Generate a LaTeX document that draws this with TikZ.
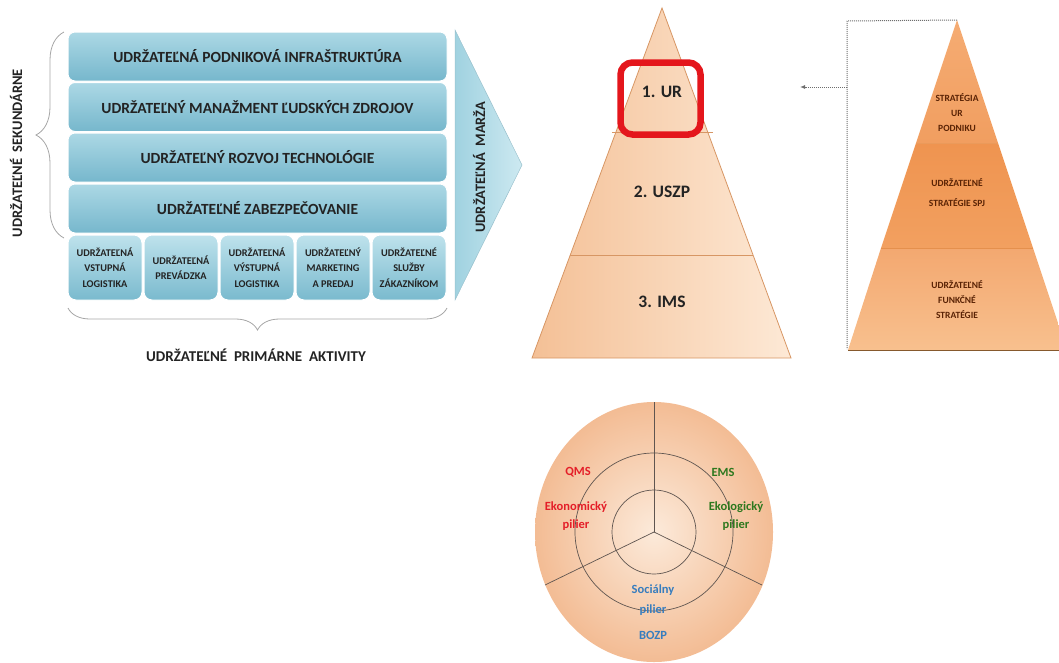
\documentclass[tikz,border=0pt]{standalone}
\usepackage{fontspec}
\setmainfont{Carlito}
\usetikzlibrary{arrows.meta,decorations.pathreplacing}
\definecolor{txt}{RGB}{35,35,35}
\definecolor{barTop}{RGB}{172,216,229}
\definecolor{barBot}{RGB}{118,183,204}
\definecolor{primTop}{RGB}{190,226,236}
\definecolor{primBot}{RGB}{122,186,206}
\definecolor{arrL}{RGB}{160,210,224}
\definecolor{arrR}{RGB}{205,233,241}
\definecolor{pyrL}{RGB}{244,192,150}
\definecolor{pyrR}{RGB}{253,233,214}
\definecolor{pyrEdge}{RGB}{215,150,100}
\definecolor{urRed}{RGB}{228,22,28}
\definecolor{rTop}{RGB}{245,172,115}
\definecolor{rTopB}{RGB}{241,158,96}
\definecolor{rMid}{RGB}{239,148,80}
\definecolor{rMidB}{RGB}{242,160,96}
\definecolor{rBot}{RGB}{243,168,112}
\definecolor{rBotB}{RGB}{248,192,142}
\definecolor{rTxt}{RGB}{90,35,5}
\definecolor{cIn}{RGB}{252,234,218}
\definecolor{cOut}{RGB}{243,188,148}
\definecolor{ring}{RGB}{95,85,80}
\definecolor{qRed}{RGB}{228,30,40}
\definecolor{eGreen}{RGB}{45,120,30}
\definecolor{sBlue}{RGB}{55,125,190}
\definecolor{dotc}{RGB}{110,110,110}
\begin{document}
\begin{tikzpicture}[x=1pt,y=-1pt,
  bar/.style={rounded corners=7pt, top color=barTop, bottom color=barBot, draw=white, line width=1pt,
    minimum width=379pt, minimum height=49pt, inner sep=0pt, font=\fontsize{15.5}{18}\selectfont\bfseries, text=txt},
  prim/.style={rounded corners=8pt, top color=primTop, bottom color=primBot, draw=white, line width=1pt,
    minimum width=74pt, minimum height=65pt, inner sep=0pt, align=center, font=\fontsize{10.3}{15.5}\selectfont\bfseries, text=txt},
  lbl/.style={font=\fontsize{15}{17}\selectfont\bfseries, text=txt, inner sep=0pt},
  pyrlbl/.style={font=\fontsize{17.5}{20}\selectfont\bfseries, text=txt, inner sep=0pt},
  rlbl/.style={font=\fontsize{9.5}{15}\selectfont\bfseries, text=rTxt, align=center, inner sep=0pt},
  clbl/.style={font=\fontsize{12.5}{18}\selectfont\bfseries, align=center, inner sep=0pt},
  bracestyle/.style={draw=gray!70, line width=0.8pt, decorate},
  dotline/.style={draw=dotc, densely dotted, line width=1pt}
]
\useasboundingbox (0,0) rectangle (1059,662);

% ---------- value chain ----------
\node[bar] (b1) at (257.5,56.5) {UDRŽATEĽNÁ PODNIKOVÁ INFRAŠTRUKTÚRA};
\node[bar] (b2) at (257.5,107) {UDRŽATEĽNÝ MANAŽMENT ĽUDSKÝCH ZDROJOV};
\node[bar] (b3) at (257.5,157.5) {UDRŽATEĽNÝ ROZVOJ TECHNOLÓGIE};
\node[bar] (b4) at (257.5,208.5) {UDRŽATEĽNÉ ZABEZPEČOVANIE};

\node[prim] (p1) at (105,267.5) {UDRŽATEĽNÁ\\VSTUPNÁ\\LOGISTIKA};
\node[prim] (p2) at (181,267.5) {UDRŽATEĽNÁ\\PREVÁDZKA};
\node[prim] (p3) at (257,267.5) {UDRŽATEĽNÁ\\VÝSTUPNÁ\\LOGISTIKA};
\node[prim] (p4) at (333,267.5) {UDRŽATEĽNÝ\\MARKETING\\A PREDAJ};
\node[prim] (p5) at (409,267.5) {UDRŽATEĽNÉ\\SLUŽBY\\ZÁKAZNÍKOM};

\shade[left color=arrL, right color=arrR, draw=arrL!80!gray, line width=0.5pt] (455,30) -- (522,165) -- (455,300) -- cycle;
\node[lbl, rotate=90, font=\fontsize{14.4}{16}\selectfont\bfseries] (marza) at (479,167) {UDRŽATEĽNÁ\ \ MARŽA};

\draw[bracestyle, decoration={brace, amplitude=28pt}] (64,238) -- (64,32);
\node[lbl, rotate=90, font=\fontsize{14.5}{16}\selectfont\bfseries] (sek) at (16,153) {UDRŽATEĽNÉ\ \ SEKUNDÁRNE};

\draw[bracestyle, decoration={brace, amplitude=22pt}] (447,308) -- (68,308);
\node[lbl] (prim) at (256,355) {UDRŽATEĽNÉ\ \ PRIMÁRNE\ \ AKTIVITY};

% ---------- middle pyramid ----------
\shade[left color=pyrL, right color=pyrR, draw=pyrEdge, line width=0.8pt] (662,8) -- (791,358) -- (532,358) -- cycle;
\draw[pyrEdge, line width=0.8pt] (612,132) -- (713,132);
\draw[pyrEdge, line width=0.8pt] (570,255) -- (753,255);
\node[draw=urRed, line width=6.5pt, rounded corners=12pt, minimum width=80pt, minimum height=72pt] (urbox) at (660.5,98.5) {};
\node[pyrlbl] (ur) at (662,92) {1. UR};
\node[pyrlbl] (uszp) at (662,192) {2. USZP};
\node[pyrlbl] (ims) at (662,302) {3. IMS};

% ---------- right pyramid ----------
\shade[top color=rTop, bottom color=rTopB] (957,20) -- (998,143) -- (916,143) -- cycle;
\shade[top color=rMid, bottom color=rMidB] (916,143) -- (998,143) -- (1033,248) -- (881,248) -- cycle;
\shade[top color=rBot, bottom color=rBotB] (881,248) -- (1033,248) -- (1067,350) -- (848,350) -- cycle;
\draw[rTopB!85!brown, line width=0.5pt] (916,143) -- (998,143);
\draw[rMid!80!brown, line width=0.5pt] (881,248) -- (1033,248);
\draw[brown!70!black, line width=1pt] (848,350) -- (1059,350);
\node[rlbl] (s1) at (957,113) {STRATÉGIA\\UR\\PODNIKU};
\node[rlbl, font=\fontsize{9.5}{20}\selectfont\bfseries] (s2) at (957,193) {UDRŽATEĽNÉ\\STRATÉGIE SPJ};
\node[rlbl] (s3) at (957,300) {UDRŽATEĽNÉ\\FUNKČNÉ\\STRATÉGIE};

\coordinate (rapex) at (957,20);
\coordinate (dtop) at (847,21);
\coordinate (dbot) at (847,349);
\coordinate (dmid) at (847,87);
\coordinate (dend) at (800,87);
\draw[dotline] (rapex) -- (dtop) -- (dbot);
\draw[dotline, -{Latex[length=5pt,width=4pt]}] (dmid) -- (dend);

% ---------- circle ----------
\shade[inner color=cIn, outer color=cOut] (654,532) ellipse [x radius=119, y radius=130];
\draw[ring, line width=0.7pt] (654,532) circle [radius=79];
\draw[ring, line width=0.7pt] (654,532) circle [radius=42];
\draw[ring, line width=0.7pt] (654,532) -- (654,402);
\draw[ring, line width=0.7pt] (654,532) -- (545,585);
\draw[ring, line width=0.7pt] (654,532) -- (762,585);

\node[clbl, text=qRed] (qms) at (578,472) {QMS};
\node[clbl, text=qRed] (eko) at (576,516) {Ekonomický\\pilier};
\node[clbl, text=eGreen] (ems) at (723,472) {EMS};
\node[clbl, text=eGreen] (ekol) at (736,516) {Ekologický\\pilier};
\node[clbl, text=sBlue, font=\fontsize{12.5}{20}\selectfont\bfseries] (soc) at (653,600) {Sociálny\\pilier};
\node[clbl, text=sBlue] (bozp) at (653,635) {BOZP};
\end{tikzpicture}
\end{document}
